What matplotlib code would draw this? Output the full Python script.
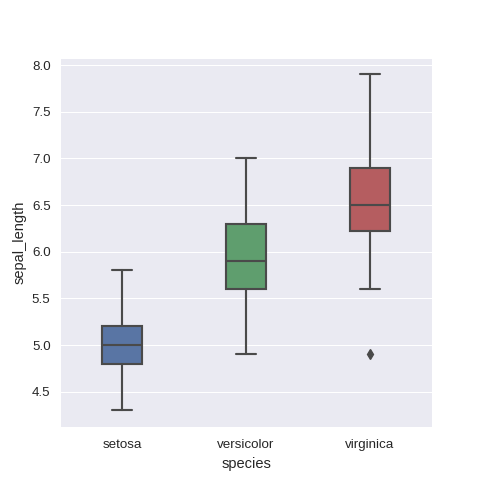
import matplotlib
matplotlib.use("Agg")
import matplotlib.pyplot as plt
import seaborn as sns

species = ["setosa", "versicolor", "virginica"]
whis_low = [4.3, 4.9, 5.6]
q1 = [4.8, 5.6, 6.225]
median = [5.0, 5.9, 6.5]
q3 = [5.2, 6.3, 6.9]
whis_high = [5.8, 7.0, 7.9]
outliers = [[], [], [4.9]]

# seaborn "deep" palette, desaturated like the boxplot does it
colors = [sns.desaturate(c, 0.75) for c in ["#4C72B0", "#55A868", "#C44E52"]]
gray = "#4a4a4a"

sns.set_style("darkgrid")
plt.rcParams["font.family"] = ["Liberation Sans", "DejaVu Sans"]

fig, ax = plt.subplots(figsize=(5, 5), dpi=96)

stats = []
for i, name in enumerate(species):
    stats.append({
        "label": name, "whislo": whis_low[i], "q1": q1[i], "med": median[i],
        "q3": q3[i], "whishi": whis_high[i], "fliers": outliers[i],
    })

lw = 1.6
bp = ax.bxp(stats, positions=range(len(species)), widths=0.32, patch_artist=True,
            boxprops=dict(edgecolor=gray, linewidth=lw),
            medianprops=dict(color=gray, linewidth=lw),
            whiskerprops=dict(color=gray, linewidth=lw),
            capprops=dict(color=gray, linewidth=lw),
            flierprops=dict(marker="d", markerfacecolor=gray, markeredgecolor=gray,
                            markersize=5))
for patch, c in zip(bp["boxes"], colors):
    patch.set_facecolor(c)

ax.set_xlim(-0.5, 2.5)
ax.grid(False, axis="x")
ax.set_xlabel("species", fontsize=11)
ax.set_ylabel("sepal_length", fontsize=11)
ax.tick_params(labelsize=10)
ax.tick_params(axis="x", pad=5.5)
ax.tick_params(axis="y", pad=3.5)

fig.savefig("out.png")
